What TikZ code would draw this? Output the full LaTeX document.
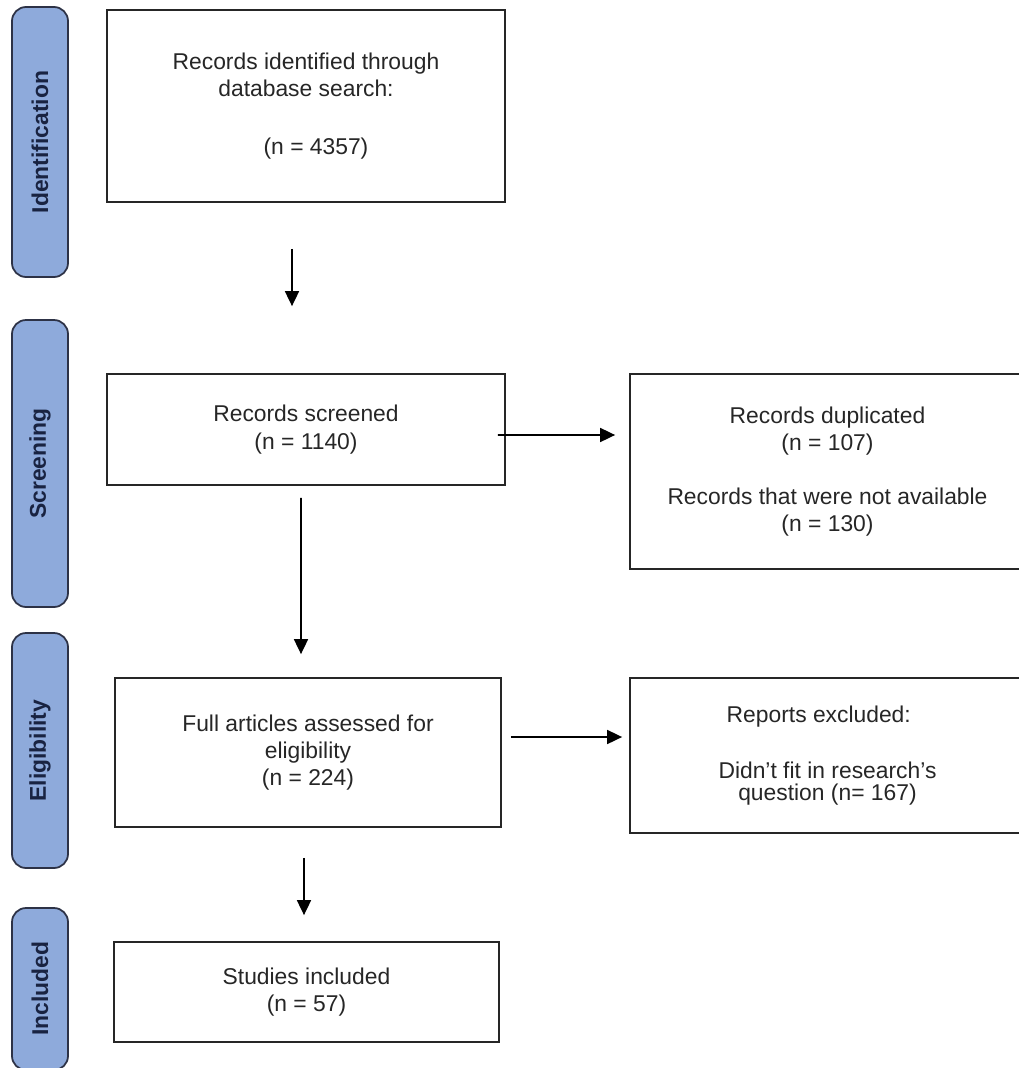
\documentclass[tikz,border=0pt]{standalone}
\usepackage{fontspec}
\setmainfont{Liberation Sans}
\usepackage{xcolor}
\usepackage{tikz}
\usetikzlibrary{arrows.meta,positioning}

\definecolor{phasefill}{RGB}{142,170,219}
\definecolor{phaseline}{RGB}{45,50,70}
\definecolor{phasetext}{RGB}{25,35,65}

\begin{document}
\begin{tikzpicture}[
    flowbox/.style={rectangle, draw=black!85, line width=1pt, inner sep=0pt, align=center, text=black!85, font=\fontsize{13}{15.5}\selectfont},
    sidebox/.style={rectangle, draw=phaseline, fill=phasefill, line width=1pt, rounded corners=8pt, minimum width=1.12cm, inner sep=0pt},
    sidetext/.style={rotate=90, text=phasetext, font=\fontsize{13}{15.5}\selectfont\bfseries},
    arr/.style={-{Triangle[length=0.3cm, width=0.28cm]}, line width=1pt},
  ]
    \useasboundingbox (0,0) rectangle (20.38,-21.36);

    % --- phase labels (left) ---
    \node[sidebox, minimum height=5.4cm] (sideid) at (0.8,-2.84) {};
    \node[sidetext] at (sideid) {Identification};
    \node[sidebox, minimum height=5.74cm] (sidescr) at (0.8,-9.27) {};
    \node[sidetext] at (sidescr) {Screening};
    \node[sidebox, minimum height=4.7cm] (sideelig) at (0.8,-15.01) {};
    \node[sidetext] at (sideelig) {Eligibility};
    \node[sidebox, minimum height=3.24cm] (sideinc) at (0.8,-19.78) {};
    \node[sidetext] at (sideinc) {Included};

    % --- main column ---
    \node[flowbox, minimum width=7.96cm, minimum height=3.84cm] (ident) at (6.12,-2.12)
      {Records identified through\\database search:\\[0.6cm]\hspace*{0.4cm}(n = 4357)};
    \node[flowbox, minimum width=7.96cm, minimum height=2.22cm] (screen) at (6.12,-8.59)
      {Records screened\\(n = 1140)};
    \node[flowbox, minimum width=7.72cm, minimum height=2.98cm] (elig) at (6.16,-15.05)
      {Full articles assessed for\\eligibility\\(n = 224)};
    \node[flowbox, minimum width=7.7cm, minimum height=2.0cm] (incl) at (6.13,-19.84)
      {Studies included\\(n = 57)};

    % --- exclusions (right) ---
    \node[flowbox, minimum width=7.9cm, minimum height=3.9cm] (dup) at (16.55,-9.43)
      {Records duplicated\\(n = 107)\\[0.54cm]Records that were not available\\(n = 130)};
    \node[flowbox, minimum width=7.9cm, minimum height=3.1cm] (excl) at (16.55,-15.11)
      {\hspace*{-0.35cm}Reports excluded:\\[0.58cm]Didn't fit in research's\\[-0.1cm]question (n= 167)};

    % arrows
    \draw[arr] ([xshift=-0.28cm, yshift=-0.92cm]ident.south) -- ([xshift=-0.28cm, yshift=1.34cm]screen.north);
    \draw[arr] ([xshift=-0.1cm, yshift=-0.24cm]screen.south) -- ([xshift=-0.14cm, yshift=0.46cm]elig.north);
    \draw[arr] ([xshift=-0.08cm, yshift=-0.6cm]elig.south) -- ([xshift=-0.05cm, yshift=0.52cm]incl.north);
    \draw[arr] ([xshift=-0.16cm, yshift=-0.11cm]screen.east) -- ([xshift=-0.28cm, yshift=0.73cm]dup.west);
    \draw[arr] ([xshift=0.18cm, yshift=0.31cm]elig.east) -- ([xshift=-0.14cm, yshift=0.37cm]excl.west);

\end{tikzpicture}
\end{document}
